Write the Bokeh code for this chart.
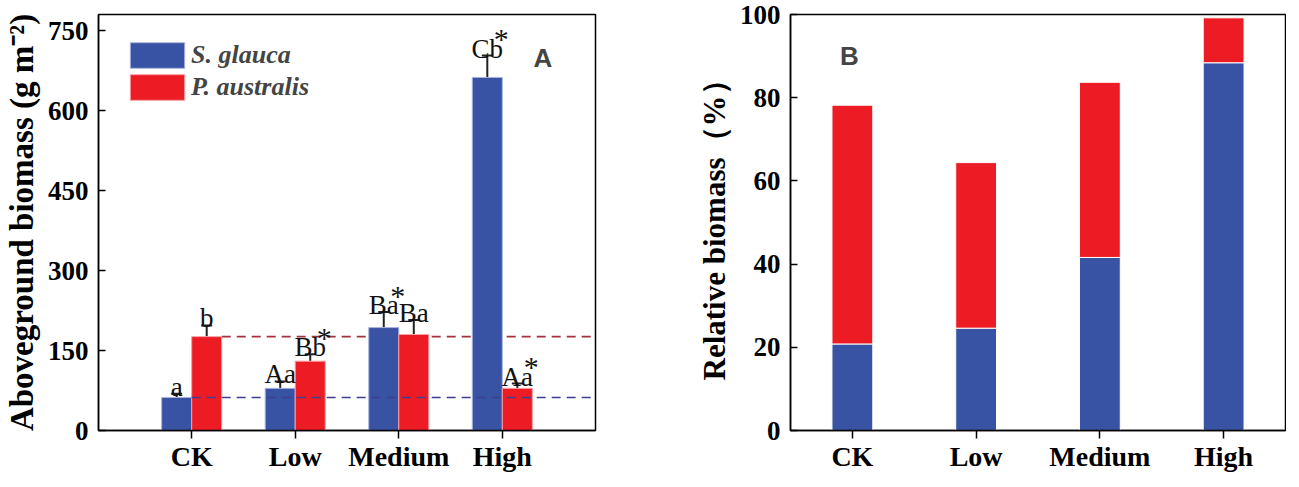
from bokeh.plotting import figure
from bokeh.models import ColumnDataSource, Whisker, TeeHead, FixedTicker, Label, Range1d
from bokeh.layouts import row
from bokeh.core.properties import value
from bokeh.embed import file_html
from bokeh.resources import INLINE

# data
treatments = ["CK", "Low", "Medium", "High"]
sg_biomass = [62, 79, 193, 662]      # S. glauca, g m-2
sg_se = [7, 13, 29, 41]
pa_biomass = [176, 130, 180, 79]     # P. australis, g m-2
pa_se = [21, 13, 27, 9]
sg_letters = ["a", "Aa", "Ba", "Cb"]
pa_letters = ["b", "Bb", "Ba", "Aa"]
sg_stars = ["", "", "*", "*"]
pa_stars = ["", "*", "", "*"]
sg_relative = [20.8, 24.6, 41.6, 88.4]   # relative biomass, %
pa_relative = [57.4, 39.8, 42.1, 10.8]

BLUE = "#3953a4"
RED = "#ed1c24"
SERIF = "Liberation Serif"
SANS = "Liberation Sans"

pos = [1, 2, 3, 4]
off = 0.145
bw = 0.29

FRAME_H = 416
TOP = 14


def style_axes(p, ylabel, yticks, label_size):
    p.xgrid.visible = False
    p.ygrid.visible = False
    p.outline_line_color = "black"
    p.outline_line_width = 1.5
    p.outline_line_alpha = 1

    p.xaxis.ticker = FixedTicker(ticks=pos)
    p.xaxis.major_label_overrides = {k: t for k, t in zip(pos, treatments)}
    p.xaxis.major_tick_in = 0
    p.xaxis.major_tick_out = 8
    p.xaxis.major_label_standoff = 2
    p.xaxis.major_label_text_font_size = "28px"

    p.yaxis.ticker = FixedTicker(ticks=yticks)
    p.yaxis.major_tick_in = 7
    p.yaxis.major_tick_out = 0
    p.yaxis.major_label_standoff = 10
    p.yaxis.major_label_text_font_size = "27px"
    p.yaxis.axis_label = ylabel
    p.yaxis.axis_label_standoff = 5
    p.yaxis.axis_label_text_font = SERIF
    p.yaxis.axis_label_text_font_style = "bold"
    p.yaxis.axis_label_text_font_size = label_size
    p.yaxis.axis_label_text_color = "black"

    for ax in (p.xaxis, p.yaxis):
        ax.axis_line_width = 1.5
        ax.major_tick_line_width = 1.5
        ax.minor_tick_line_color = None
        ax.major_label_text_font = SERIF
        ax.major_label_text_font_style = "bold"
        ax.major_label_text_color = "black"


# ---- panel A: aboveground biomass ----
src_sg = ColumnDataSource(dict(
    x=[p - off for p in pos], top=sg_biomass,
    up=[m + e for m, e in zip(sg_biomass, sg_se)],
    lab=sg_letters, star=sg_stars))
src_pa = ColumnDataSource(dict(
    x=[p + off for p in pos], top=pa_biomass,
    up=[m + e for m, e in zip(pa_biomass, pa_se)],
    lab=pa_letters, star=pa_stars))

pa = figure(frame_width=497, frame_height=FRAME_H,
            min_border_left=95, min_border_right=28, min_border_top=TOP, min_border_bottom=41,
            x_range=Range1d(0.1, 4.9), y_range=Range1d(0, 780),
            output_backend="svg", toolbar_location=None)

# reference line for P. australis CK level (behind the bars)
pa.segment(x0=[pos[0] + off + bw / 2], y0=[pa_biomass[0]], x1=[4.9], y1=[pa_biomass[0]],
           line_color="#a3323a", line_width=1.6, line_dash="9 6")

pa.vbar(x="x", top="top", width=bw, source=src_sg, fill_color=BLUE,
        line_color="#aab3dd", line_width=1, legend_label="S. glauca")
pa.vbar(x="x", top="top", width=bw, source=src_pa, fill_color=RED,
        line_color="#f6a0a3", line_width=1, legend_label="P. australis")

# reference line for S. glauca CK level
pa.segment(x0=[pos[0]], y0=[sg_biomass[0]], x1=[4.9], y1=[sg_biomass[0]],
           line_color="#3d3f8f", line_width=1.6, line_dash="9 6")

for src in (src_sg, src_pa):
    pa.add_layout(Whisker(source=src, base="x", lower="top", upper="up", dimension="height",
                          line_color="#222222", line_width=2,
                          upper_head=TeeHead(size=11, line_color="#222222", line_width=2),
                          lower_head=None))
    pa.text(x="x", y="up", text="lab", source=src, text_font=value(SERIF),
            text_font_size="27px", text_align="center", text_baseline="alphabetic",
            y_offset=-7, text_color="#111111")
    pa.text(x="x", y="up", text="star", source=src, text_font=value(SERIF),
            text_font_size="30px", text_align="center", text_baseline="alphabetic",
            x_offset=14, y_offset=-17, text_color="#111111")

pa.legend.location = "top_left"
pa.legend.margin = 25
pa.legend.padding = 0
pa.legend.spacing = 0
pa.legend.border_line_color = None
pa.legend.background_fill_alpha = 0
pa.legend.glyph_width = 68
pa.legend.glyph_height = 32
pa.legend.label_height = 32
pa.legend.label_standoff = 0
pa.legend.label_text_font = SERIF
pa.legend.label_text_font_style = "bold italic"
pa.legend.label_text_font_size = "26px"

pa.add_layout(Label(x=4.3, y=698, text="A", text_font=SANS, text_font_style="bold",
                    text_font_size="26px", text_baseline="alphabetic"))

style_axes(pa, "Aboveground biomass (g m⁻²)", [0, 150, 300, 450, 600, 750], "33px")

# ---- panel B: relative biomass ----
src_rel = ColumnDataSource(dict(x=pos, sg=sg_relative, pa=pa_relative))

pb = figure(frame_width=495, frame_height=FRAME_H,
            min_border_left=167, min_border_right=1, min_border_top=TOP, min_border_bottom=41,
            x_range=Range1d(0.5, 4.5), y_range=Range1d(0, 100),
            output_backend="svg", toolbar_location=None)

pb.vbar_stack(["sg", "pa"], x="x", width=0.33, color=[BLUE, RED], source=src_rel,
              line_color="white", line_width=1)

pb.add_layout(Label(x=0.9, y=90, text="B", text_font=SANS, text_font_style="bold",
                    text_font_size="26px", text_baseline="alphabetic"))

style_axes(pb, "Relative biomass（%）", [0, 20, 40, 60, 80, 100], "31px")

layout = row(pa, pb)
open("out.html", "w").write(file_html(layout, INLINE))
